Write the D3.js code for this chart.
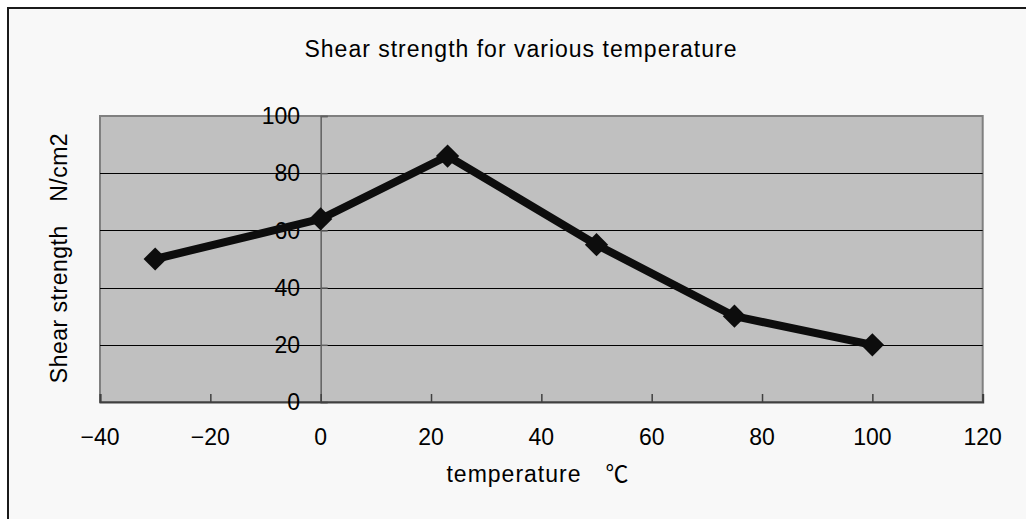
<!DOCTYPE html>
<html>
<head>
<meta charset="utf-8">
<script src="https://cdn.jsdelivr.net/npm/d3@7"></script>
<style>
  html, body { margin: 0; padding: 0; background: #ffffff; }
  svg { display: block; }
  text { font-family: "Liberation Sans", "Noto Sans CJK JP", sans-serif; fill: #000; }
</style>
</head>
<body>
<svg id="chart" width="1026" height="519"></svg>
<script>
const temperatures = [-30, 0, 23, 50, 75, 100];
const shearStrength = [50, 64, 86, 55, 30, 20];
const xTicks = [-40, -20, 0, 20, 40, 60, 80, 100, 120];
const yTicks = [0, 20, 40, 60, 80, 100];
const chartTitle = "Shear strength for various temperature";
const xTitle = "temperature\u3000\u2103";
const yTitle = "Shear strength\u3000N/cm2";

const svg = d3.select("#chart");
const W = 1026, H = 519;
const plot = { left: 100, right: 982.7, top: 116, bottom: 402 };

// outer frame (only left/top visible)
svg.append("rect").attr("x", 0).attr("y", 0).attr("width", W).attr("height", H).attr("fill", "#ffffff");
svg.append("rect").attr("x", 8).attr("y", 8).attr("width", W + 20).attr("height", H + 20)
  .attr("fill", "#f8f8f8").attr("stroke", "#1a1a1a").attr("stroke-width", 2);

const x = d3.scaleLinear().domain([-40, 120]).range([plot.left, plot.right]);
const y = d3.scaleLinear().domain([0, 100]).range([plot.bottom, plot.top]);

// plot area
svg.append("rect")
  .attr("x", plot.left).attr("y", plot.top)
  .attr("width", plot.right - plot.left).attr("height", plot.bottom - plot.top)
  .attr("fill", "#c0c0c0").attr("stroke", "#808080").attr("stroke-width", 2);

// gridlines
svg.append("g").selectAll("line").data(yTicks.filter(d => d > 0 && d < 100)).join("line")
  .attr("x1", plot.left).attr("x2", plot.right)
  .attr("y1", d => Math.round(y(d)) + 0.5).attr("y2", d => Math.round(y(d)) + 0.5)
  .attr("stroke", "#000").attr("stroke-width", 1);

// y axis at x = 0 with ticks pointing right
const yAxis = d3.axisRight(y).tickValues(yTicks).tickSize(7).tickFormat("");
const gy = svg.append("g").attr("transform", `translate(${x(0)},0)`).call(yAxis);
gy.select(".domain").attr("stroke", "#606060").attr("stroke-width", 1.5);
gy.selectAll(".tick line").attr("stroke", "#606060").attr("stroke-width", 1.5);

// x axis at y = 0 with ticks pointing up
const xAxis = d3.axisTop(x).tickValues(xTicks).tickSize(8).tickFormat("");
const gx = svg.append("g").attr("transform", `translate(0,${y(0)})`).call(xAxis);
gx.select(".domain").attr("stroke", "#404040").attr("stroke-width", 2);
gx.selectAll(".tick line").attr("stroke", "#404040").attr("stroke-width", 1.5);

// y tick labels
svg.append("g").selectAll("text").data(yTicks).join("text")
  .attr("x", 300).attr("y", d => y(d)).attr("dy", "0.36em")
  .attr("text-anchor", "end").attr("font-size", 23)
  .text(d => d);

// x tick labels
const fmt = d => (d < 0 ? "\u2212" + Math.abs(d) : String(d));
svg.append("g").selectAll("text").data(xTicks).join("text")
  .attr("x", d => x(d)).attr("y", 445)
  .attr("text-anchor", "middle").attr("font-size", 23)
  .text(fmt);

// line
const pts = temperatures.map((t, i) => [t, shearStrength[i]]);
svg.append("path").datum(pts)
  .attr("d", d3.line().x(d => x(d[0])).y(d => y(d[1])))
  .attr("fill", "none").attr("stroke", "#0d0d0d").attr("stroke-width", 8)
  .attr("stroke-linejoin", "round");

// diamond markers
const sq = d3.symbol().type(d3.symbolSquare).size(270);
svg.append("g").selectAll("path").data(pts).join("path")
  .attr("d", sq)
  .attr("transform", d => `translate(${x(d[0])},${y(d[1])}) rotate(45)`)
  .attr("fill", "#0d0d0d");

// titles
svg.append("text").attr("x", 521).attr("y", 57).attr("text-anchor", "middle")
  .attr("font-size", 23).attr("letter-spacing", 1).text(chartTitle);
svg.append("text").attr("x", 538).attr("y", 482).attr("text-anchor", "middle")
  .attr("font-size", 23).attr("letter-spacing", 1).text(xTitle);
svg.append("text").attr("transform", "translate(67,258) rotate(-90)").attr("text-anchor", "middle")
  .attr("font-size", 23).attr("letter-spacing", 0.5).text(yTitle);
</script>
</body>
</html>
